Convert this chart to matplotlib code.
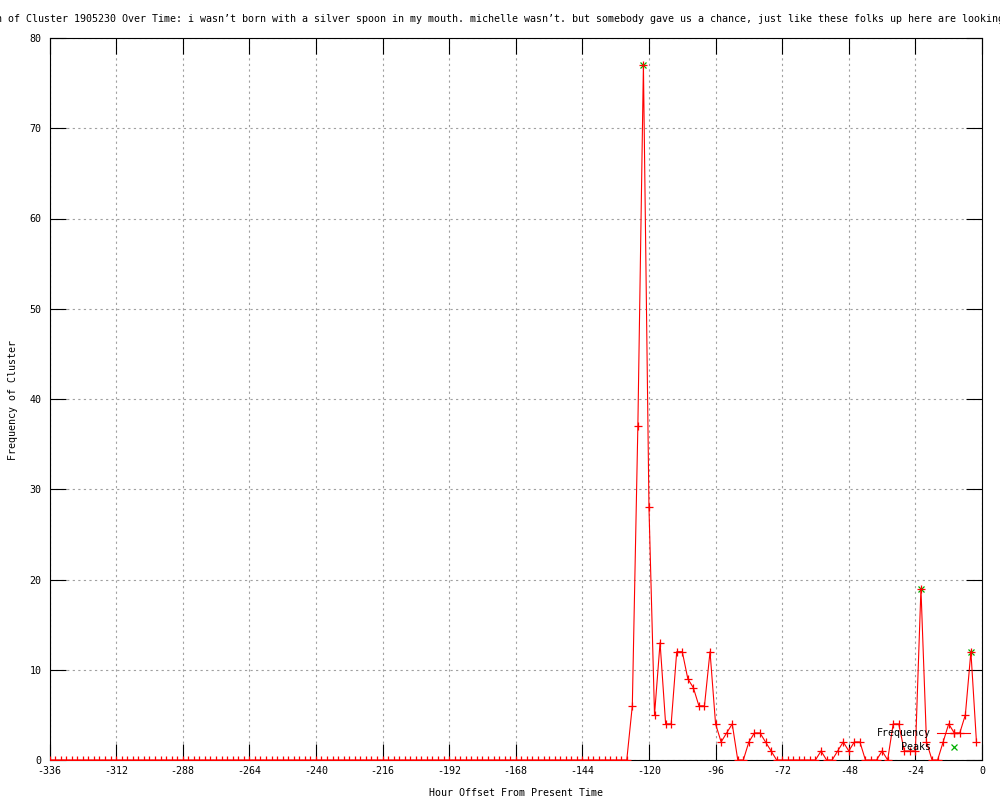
import matplotlib.pyplot as plt
import numpy as np

plt.rcParams['font.family'] = ['DejaVu Sans Mono']
plt.rcParams['axes.unicode_minus'] = False

# hour offsets (every 2 hours, -336 .. -2)
hours = np.arange(-336, 0, 2)

# frequency per hour bin: flat zeros from -336 to -128, then activity
freq_quiet = [0] * 105
freq_active = [6, 37, 77, 28, 5, 13, 4, 4, 12, 12,
               9, 8, 6, 6, 12, 4, 2, 3, 4, 0,
               0, 2, 3, 3, 2, 1, 0, 0, 0, 0,
               0, 0, 0, 0, 1, 0, 0, 1, 2, 1,
               2, 2, 0, 0, 0, 1, 0, 4, 4, 1,
               1, 1, 19, 2, 0, 0, 2, 4, 3, 3,
               5, 12, 2]
freq = freq_quiet + freq_active

# detected peaks
peak_hours = [-122, -22, -4]
peak_values = [77, 19, 12]

x_ticks = list(range(-336, 1, 24))
y_ticks = list(range(0, 81, 10))

title = ("n of Cluster 1905230 Over Time: i wasn\u2019t born with a silver spoon in my mouth. "
         "michelle wasn\u2019t. but somebody gave us a chance, just like these folks up here are looking")

fs = 7.2

fig = plt.figure(figsize=(10, 8), dpi=100)
ax = fig.add_axes([0.0495, 0.05, 0.9325, 0.9025])

ax.plot(hours, freq, color='red', lw=0.8, marker='+', ms=6, mew=0.9, label='Frequency', zorder=3)
ax.plot(peak_hours, peak_values, ls='none', color='#00b000', marker='x', ms=5, mew=0.9,
        label='Peaks', zorder=2)

ax.set_xlim(-336, 0)
ax.set_ylim(0, 80)
ax.set_xticks(x_ticks)
ax.set_yticks(y_ticks)
ax.tick_params(direction='in', length=11.5, width=0.8, top=True, right=True,
               labelsize=fs, color='black')
ax.tick_params(axis='y', pad=5.8)
ax.tick_params(axis='x', pad=4)
ax.grid(True, color='#a0a0a0', lw=0.8, ls=(0, (2, 3)))
for s in ax.spines.values():
    s.set_linewidth(0.8)
    s.set_color('black')

fig.text(0.5, 1 - 19 / 800, title, ha='center', va='center', fontsize=fs)
fig.text(0.516, 1 - 793 / 800, 'Hour Offset From Present Time', ha='center', va='center', fontsize=fs)
fig.text(0.013, 1 - 400 / 800, 'Frequency of Cluster', ha='center', va='center',
         rotation=90, fontsize=fs)

ax.legend(loc='upper right', bbox_to_anchor=(0.97, 1 - 728 / 800),
          bbox_transform=fig.transFigure, frameon=False, markerfirst=False,
          fontsize=fs, handlelength=3.3, handletextpad=0.6, labelspacing=0.4,
          borderpad=0, borderaxespad=0, numpoints=1)

fig.savefig('out.png', dpi=100)
